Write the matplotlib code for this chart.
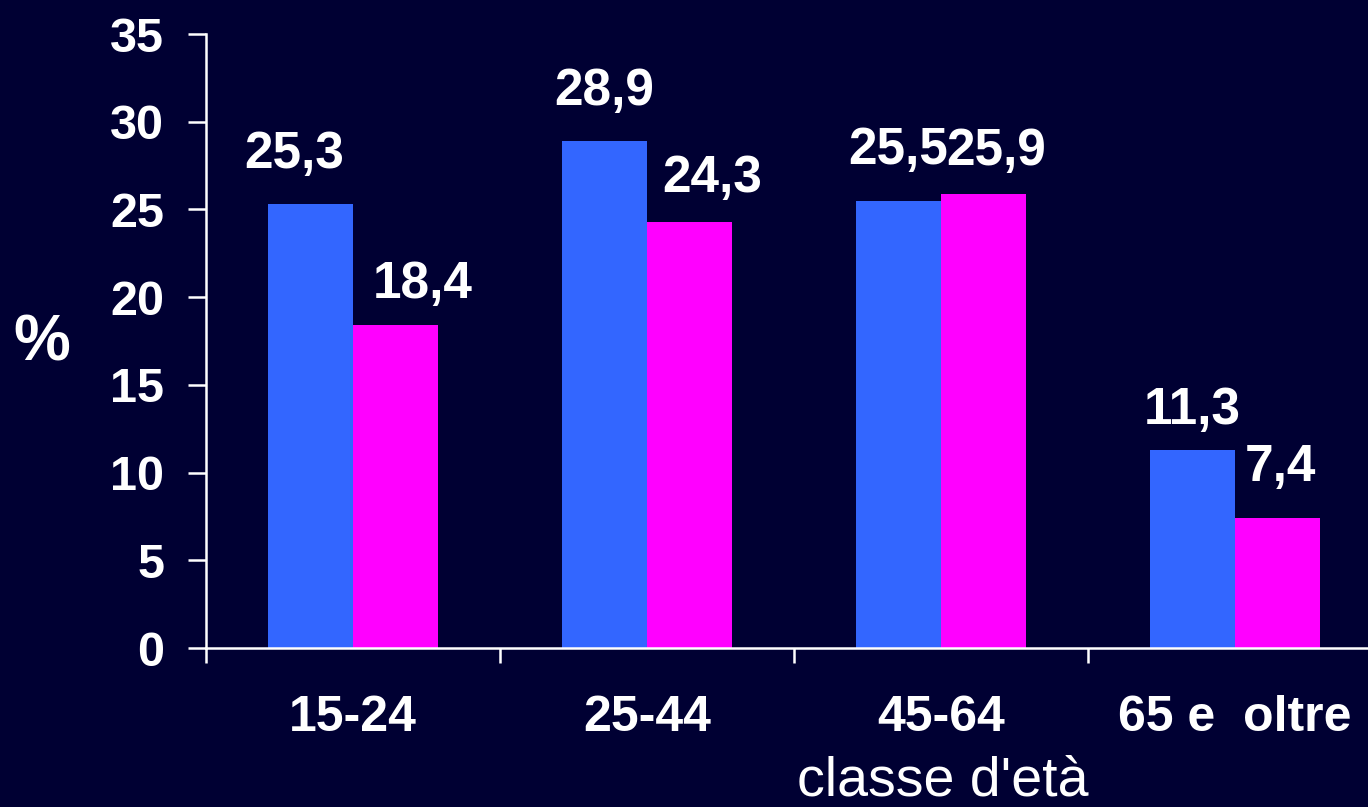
import matplotlib
matplotlib.use("Agg")
import matplotlib.pyplot as plt
import numpy as np

plt.rcParams["font.family"] = ["Liberation Sans", "DejaVu Sans"]

BG = "#000033"
BLUE = "#3366FF"
MAG = "#FF00FF"

# age classes and the two series (%)
classes = ["15-24", "25-44", "45-64", "65 e  oltre"]
serie_a = [25.3, 28.9, 25.5, 11.3]
serie_b = [18.4, 24.3, 25.9, 7.4]

# label nudges in pixels (dx, gap above bar)
off_a = [(-16, 36), (0, 36), (0, 37), (0, 26)]
off_b = [(27, 27), (23, 30), (12, 29), (3, 37)]

fig = plt.figure(figsize=(13.68, 8.07), dpi=100, facecolor=BG)
ax = fig.add_axes([206/1368, 1-648/807, (1382-206)/1368, (648-34)/807])
ax.set_facecolor(BG)

x = np.arange(len(classes))
w = 0.29
ax.bar(x - w, serie_a, w, align="edge", color=BLUE, zorder=2)
ax.bar(x, serie_b, w, align="edge", color=MAG, zorder=2)

def fmt(v):
    return f"{v:.1f}".replace(".", ",")

for i, (a, b) in enumerate(zip(serie_a, serie_b)):
    ax.annotate(fmt(a), (x[i] - w/2, a), xytext=off_a[i], textcoords="offset pixels",
                ha="center", va="baseline", fontsize=37, fontweight="bold", color="white")
    ax.annotate(fmt(b), (x[i] + w/2, b), xytext=off_b[i], textcoords="offset pixels",
                ha="center", va="baseline", fontsize=37, fontweight="bold", color="white")

ax.set_xlim(-0.5, 3.5)
ax.set_ylim(0, 35)
ax.set_yticks(np.arange(0, 36, 5))
ax.tick_params(axis="y", colors="white", labelsize=35, length=13, width=1.8, pad=17)
for t in ax.get_yticklabels():
    t.set_fontweight("bold")

# boundary ticks without labels, category labels on minor ticks
ax.set_xticks(np.arange(-0.5, 3.6, 1.0))
ax.set_xticklabels([])
ax.set_xticks(x, minor=True)
ax.set_xticklabels(classes, minor=True)
ax.tick_params(axis="x", which="major", colors="white", length=11, width=1.8)
ax.tick_params(axis="x", which="minor", colors="white", length=0, labelsize=36, pad=34)
for t in ax.get_xticklabels(minor=True):
    t.set_fontweight("bold")

for s in ["top", "right"]:
    ax.spines[s].set_visible(False)
for s in ["left", "bottom"]:
    ax.spines[s].set_color("white")
    ax.spines[s].set_linewidth(1.8)

fig.text(42/1368, 1-343/807, "%", ha="center", va="center", fontsize=46,
         fontweight="bold", color="white")
fig.text(943/1368, 1-795/807, "classe d'età", ha="center", va="baseline",
         fontsize=40, color="white")

fig.savefig("out.png", dpi=100, facecolor=BG)
